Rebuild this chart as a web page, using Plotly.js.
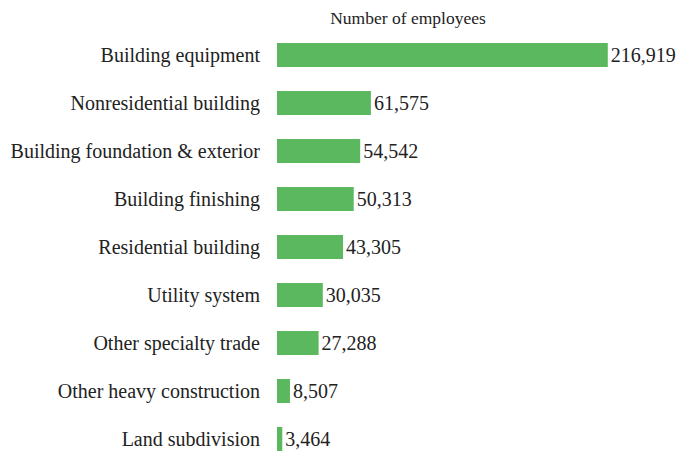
<!DOCTYPE html>
<html><head><meta charset="utf-8">
<script src="https://cdn.plot.ly/plotly-3.0.1.min.js"></script>
<style>html,body{margin:0;padding:0;background:#fff}#chart{width:680px;height:451px}</style>
</head><body><div id="chart"></div>
<script>
const categories = ["Building equipment","Nonresidential building","Building foundation & exterior","Building finishing","Residential building","Utility system","Other specialty trade","Other heavy construction","Land subdivision"];
const employees = [216919,61575,54542,50313,43305,30035,27288,8507,3464];
const labels = employees.map(v => v.toLocaleString('en-US'));

const font = '"Liberation Serif", "Times New Roman", serif';
Plotly.newPlot('chart', [{
  type: 'bar', orientation: 'h',
  y: categories, x: employees,
  text: labels, textposition: 'outside', cliponaxis: false,
  textfont: {family: font, size: 20, color: '#222'},
  marker: {color: '#5cb85f'},
  width: 0.5,
  hoverinfo: 'none'
}], {
  width: 680, height: 451,
  margin: {l: 277, r: 37, t: 31, b: 0},
  paper_bgcolor: '#fff', plot_bgcolor: '#fff',
  showlegend: false,
  title: {text: 'Number of employees', x: 408/680, xanchor: 'center', y: 1 - 18/451, yanchor: 'middle', yref: 'container',
          font: {family: font, size: 17.5, color: '#222'}},
  xaxis: {range: [0, 240000], visible: false, fixedrange: true},
  yaxis: {type: 'category', range: [8.25, -0.5], showgrid: false, zeroline: false, showline: false,
          ticks: '', ticklabelstandoff: 16, tickfont: {family: font, size: 20, color: '#222'}, fixedrange: true},
  font: {family: font}
}, {displayModeBar: false, staticPlot: true});
</script></body></html>
